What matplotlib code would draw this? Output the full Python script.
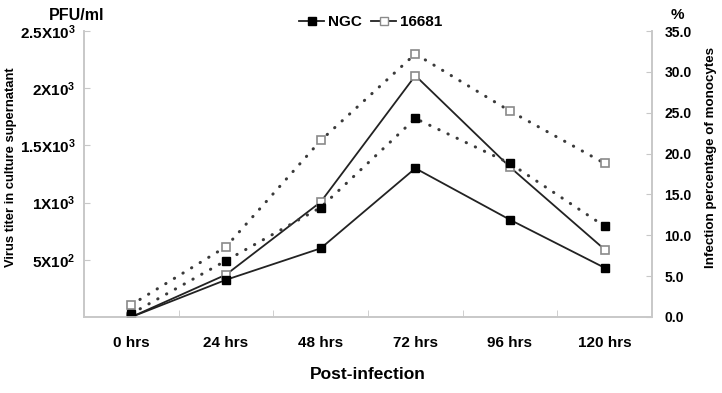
import numpy as np
import matplotlib
matplotlib.use("Agg")
import matplotlib.pyplot as plt
from matplotlib.lines import Line2D

plt.rcParams['font.family'] = ['Liberation Sans', 'DejaVu Sans']
plt.rcParams['font.weight'] = 'bold'
plt.rcParams['mathtext.fontset'] = 'custom'
plt.rcParams['mathtext.rm'] = 'Liberation Sans:bold'
plt.rcParams['mathtext.bf'] = 'Liberation Sans:bold'

# ==========================================
# DATA
# ==========================================

hours = ["0 hrs", "24 hrs", "48 hrs", "72 hrs", "96 hrs", "120 hrs"]

# virus titer (PFU/ml), solid lines, left axis
titer_ngc = [0, 325, 600, 1300, 850, 430]
titer_16681 = [0, 370, 1005, 2110, 1310, 590]

# infection percentage of monocytes (%), dotted lines, right axis
pct_ngc = [0.4, 6.9, 13.4, 24.3, 18.8, 11.1]
pct_16681 = [1.5, 8.6, 21.6, 32.2, 25.2, 18.8]

left_ticks = [500, 1000, 1500, 2000, 2500]
left_labels = [r"$\mathbf{5X10^2}$", r"$\mathbf{1X10^3}$", r"$\mathbf{1.5X10^3}$",
               r"$\mathbf{2X10^3}$", r"$\mathbf{2.5X10^3}$"]
right_ticks = [0, 5, 10, 15, 20, 25, 30, 35]

# ==========================================
# FIGURE
# ==========================================

fig = plt.figure(figsize=(7.22, 3.93), dpi=100)
ax = fig.add_axes([84/722, 1 - 317/393, 568/722, 286/393])
ax2 = ax.twinx()

x = np.arange(len(hours))

spine_col = "#c8c8c8"
open_edge = "#8a8a8a"
dot_col = "#3a3a3a"
dotted = (0, (0.1, 3.2))
msize = 6

ax.plot(x, titer_ngc, color="#222222", lw=1.3, marker="s", ms=msize,
        mfc="black", mec="black", zorder=3)
ax.plot(x, titer_16681, color="#222222", lw=1.3, marker="s", ms=msize,
        mfc="white", mec=open_edge, mew=1.2, zorder=2)

ax2.plot(x, pct_16681, color=dot_col, lw=2.2, ls=dotted, dash_capstyle="round",
         marker="s", ms=msize, mfc="white", mec=open_edge, mew=1.2)
ax2.plot(x, pct_ngc, color=dot_col, lw=2.2, ls=dotted, dash_capstyle="round",
         marker="s", ms=msize, mfc="black", mec="black")

# ==========================================
# AXES
# ==========================================

ax.set_xlim(-0.5, len(hours) - 0.5)
ax.set_ylim(0, 2500)
ax2.set_ylim(0, 35)

ax.set_xticks(x)
ax.set_xticklabels(hours, fontsize=11, fontweight="bold")
ax.set_xticks(np.arange(0.5, len(hours) - 0.5, 1), minor=True)
ax.tick_params(axis="x", which="major", length=0, pad=14)
ax.tick_params(axis="x", which="minor", direction="in", length=5, color=spine_col)

ax.set_yticks(left_ticks)
ax.set_yticklabels(left_labels, fontsize=11)
ax.tick_params(axis="y", direction="in", length=4, color=spine_col, pad=6)

ax2.set_yticks(right_ticks)
ax2.set_yticklabels([f"{t:.1f}" for t in right_ticks], fontsize=10, fontweight="bold")
ax2.tick_params(axis="y", direction="in", length=4, color=spine_col, pad=9)

for a in (ax, ax2):
    a.spines["top"].set_visible(False)
    for side in ("left", "right", "bottom"):
        a.spines[side].set_color(spine_col)
        a.spines[side].set_linewidth(1.2)

ax.set_xlabel("Post-infection", fontsize=12.5, fontweight="bold", labelpad=12)

fig.text(11/722, 1 - 167/393, "Virus titer in culture supernatant", rotation=90,
         ha="center", va="center", fontsize=9.4, fontweight="bold")
fig.text(711/722, 1 - 157/393, "Infection percentage of monocytes", rotation=90,
         ha="center", va="center", fontsize=9.6, fontweight="bold")
fig.text(77/722, 1 - 15/393, "PFU/ml", ha="center", va="center",
         fontsize=11.5, fontweight="bold")
fig.text(677/722, 1 - 15/393, "%", ha="center", va="center",
         fontsize=11, fontweight="bold")

# ==========================================
# LEGEND
# ==========================================

handles = [
    Line2D([], [], color="#222222", lw=1.3, marker="s", ms=6, mfc="black", mec="black"),
    Line2D([], [], color="#222222", lw=1.3, marker="s", ms=6, mfc="white", mec=open_edge),
]
fig.legend(handles, ["NGC", "16681"], loc="center", bbox_to_anchor=(371/722, 1 - 22/393),
           ncol=2, frameon=False, handlelength=1.6, handletextpad=0.3,
           columnspacing=0.6, prop={"weight": "bold", "size": 11})

fig.savefig("out.png", dpi=100)
